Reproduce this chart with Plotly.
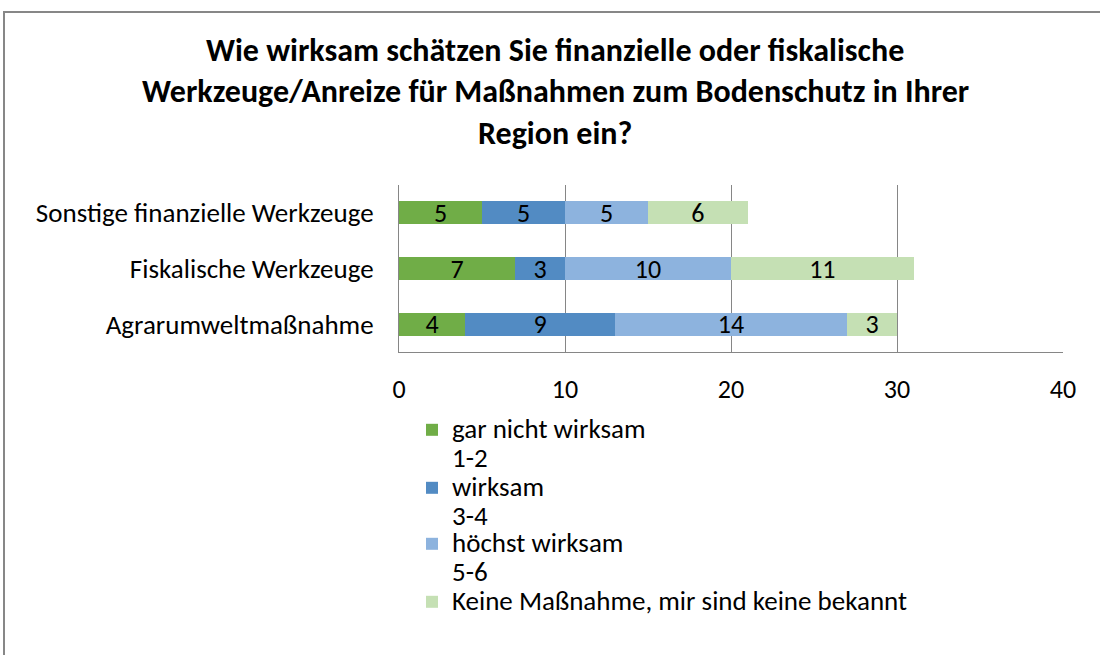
import plotly.graph_objects as go

categories = ["Agrarumweltmaßnahme", "Fiskalische Werkzeuge", "Sonstige finanzielle Werkzeuge"]
series_labels = ["gar nicht wirksam", "wirksam", "höchst wirksam",
                 "Keine Maßnahme, mir sind keine bekannt"]
series_scales = ["1-2", "3-4", "5-6", ""]
gar_nicht = [4, 7, 5]
wirksam = [9, 3, 5]
hoechst = [14, 10, 5]
keine = [3, 11, 6]
colors = ["#70AD47", "#528BC3", "#8DB3DE", "#C5E0B4"]
x_ticks = [0, 10, 20, 30, 40]
title_lines = ["Wie wirksam schätzen Sie finanzielle oder fiskalische",
               "Werkzeuge/Anreize für Maßnahmen zum Bodenschutz in Ihrer",
               "Region ein?"]

FONT = "Carlito, Liberation Sans, sans-serif"
W, H = 1100, 655
L, R, T, B = 399, 1063, 185, 352

def px_x(p):
    return (p - L) / (R - L)

def px_y(p):
    return (B - p) / (B - T)

def legend_name(label, scale):
    lines = [label] + ([scale] if scale else [])
    return "<br>".join('<span style="font-size:27px">%s</span>' % s for s in lines)

legend_ids = ["legend", "legend2", "legend3", "legend4"]
legend_first_line = [429, 487, 543, 601]

fig = go.Figure()
for label, scale, vals, col, lid in zip(series_labels, series_scales,
                                        [gar_nicht, wirksam, hoechst, keine], colors, legend_ids):
    fig.add_trace(go.Bar(
        y=categories, x=vals, name=legend_name(label, scale), orientation="h", legend=lid,
        marker=dict(color=col, line=dict(width=0)),
        text=vals, texttemplate="%{x}", textposition="inside",
        insidetextanchor="middle", constraintext="none", textangle=0,
        textfont=dict(family=FONT, size=26, color="#000000"),
        hoverinfo="skip",
    ))

annotations = []
for line, py in zip(title_lines, [50, 92, 133]):
    annotations.append(dict(
        text="<b>%s</b>" % line, x=px_x(555), y=px_y(py), xref="paper", yref="paper",
        xanchor="center", yanchor="middle", showarrow=False,
        font=dict(family=FONT, size=32, color="#000000"),
    ))

legend_layouts = {}
for lid, py in zip(legend_ids, legend_first_line):
    legend_layouts[lid] = dict(
        xref="container", yref="container", x=412 / W, y=1 - (py - 20) / H,
        xanchor="left", yanchor="top", valign="top",
        font=dict(family=FONT, size=22, color="#000000"),
        bgcolor="rgba(0,0,0,0)", itemclick=False, itemdoubleclick=False,
    )

fig.update_layout(
    width=W, height=H,
    margin=dict(l=L, r=W - R, t=T, b=H - B, pad=0, autoexpand=False),
    barmode="stack", bargap=0.587,
    paper_bgcolor="white", plot_bgcolor="white",
    font=dict(family=FONT, size=26, color="#000000"),
    showlegend=True,
    annotations=annotations,
    shapes=[dict(type="rect", xref="paper", yref="paper",
                 x0=px_x(4), x1=px_x(1120), y0=px_y(700), y1=px_y(12),
                 line=dict(color="#878787", width=2), layer="below")],
    **legend_layouts,
)
fig.update_xaxes(
    range=[0, 40], tickvals=x_ticks, showgrid=True, gridcolor="#868686", gridwidth=1,
    showline=True, linecolor="#868686", linewidth=1, zeroline=False,
    ticks="", ticklabelstandoff=14, tickfont=dict(family=FONT, size=26),
    fixedrange=True, automargin=False,
)
fig.update_yaxes(
    categoryorder="array", categoryarray=categories,
    showline=True, linecolor="#868686", linewidth=1, showgrid=False,
    ticks="", ticklabelstandoff=19, tickfont=dict(family=FONT, size=27),
    fixedrange=True, automargin=False,
)
fig.write_html("out.html", config={"displayModeBar": False},
               post_script="document.body.style.margin='0';")
